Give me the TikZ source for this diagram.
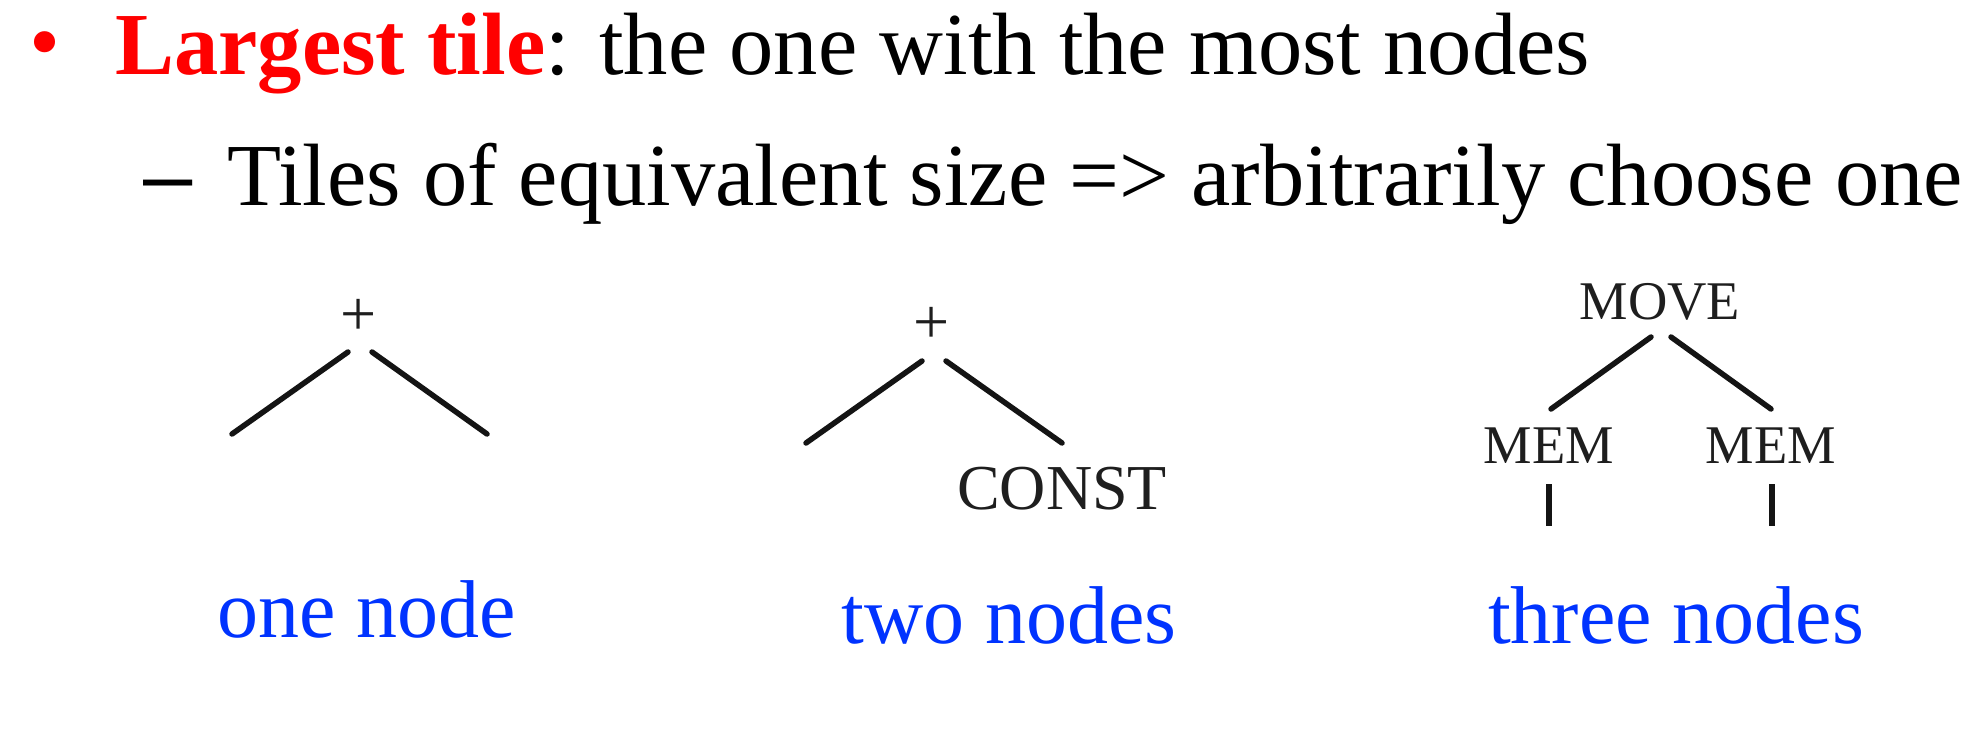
\documentclass[tikz,border=0pt]{standalone}
\usepackage{fontspec}
\setmainfont{Liberation Serif}
\setsansfont{Liberation Sans}
\definecolor{labblue}{RGB}{0,51,255}
\definecolor{treegray}{RGB}{30,30,30}
\begin{document}
\begin{tikzpicture}[x=1pt,y=-1pt,
  head/.style={anchor=base west,inner sep=0pt,font=\fontsize{88.5}{100}\selectfont},
  lab/.style={anchor=base,inner sep=0pt,text=labblue,font=\fontsize{82}{90}\selectfont},
  opbig/.style={anchor=base,inner sep=0pt,text=treegray,font=\fontsize{64}{70}\selectfont},
  opsmall/.style={anchor=base,inner sep=0pt,text=treegray,font=\fontsize{54.5}{60}\selectfont},
  edge/.style={line width=5.5pt,line cap=round,black!92}]
\useasboundingbox (0,0) rectangle (1964,736);
% header
\node[head,text=red] (bul) at (29,71) {•};
\node[head] (l1) at (115,74) {\textcolor{red}{\textbf{Largest tile}}: the one with the most nodes};
\node[head,font=\fontsize{88.5}{100}\sffamily] (dash) at (143,205) {–};
\node[head] (l2) at (227,205) {Tiles of equivalent size => arbitrarily choose one};
% tree 1
\node[opbig] (p1) at (359,335) {+};
\coordinate (p1l) at (348,352); \coordinate (p1r) at (372,352);
\coordinate (e1l) at (232,434); \coordinate (e1r) at (487,434);
\draw[edge] (p1l) -- (e1l);
\draw[edge] (p1r) -- (e1r);
% tree 2
\node[opbig] (p2) at (932,343) {+};
\coordinate (p2l) at (922,361); \coordinate (p2r) at (946,361);
\coordinate (e2l) at (806,443); \coordinate (e2r) at (1062,443);
\node[opbig] (const) at (1062,509) {CONST};
\draw[edge] (p2l) -- (e2l);
\draw[edge] (p2r) -- (e2r);
% tree 3
\node[opsmall] (move) at (1660,319) {MOVE};
\node[opsmall] (mem1) at (1549,463) {MEM};
\node[opsmall] (mem2) at (1771,463) {MEM};
\coordinate (m0l) at (1651,337); \coordinate (m0r) at (1671,337);
\coordinate (m1t) at (1551,409); \coordinate (m2t) at (1771,409);
\coordinate (v1a) at (1549,484); \coordinate (v1b) at (1549,526);
\coordinate (v2a) at (1772,484); \coordinate (v2b) at (1772,526);
\draw[edge] (m0l) -- (m1t);
\draw[edge] (m0r) -- (m2t);
\draw[edge,line cap=butt] (v1a) -- (v1b);
\draw[edge,line cap=butt] (v2a) -- (v2b);
% labels
\node[lab] (lab1) at (367,637) {one node};
\node[lab] (lab2) at (1009,643) {two nodes};
\node[lab] (lab3) at (1676,643) {three nodes};
\end{tikzpicture}
\end{document}
